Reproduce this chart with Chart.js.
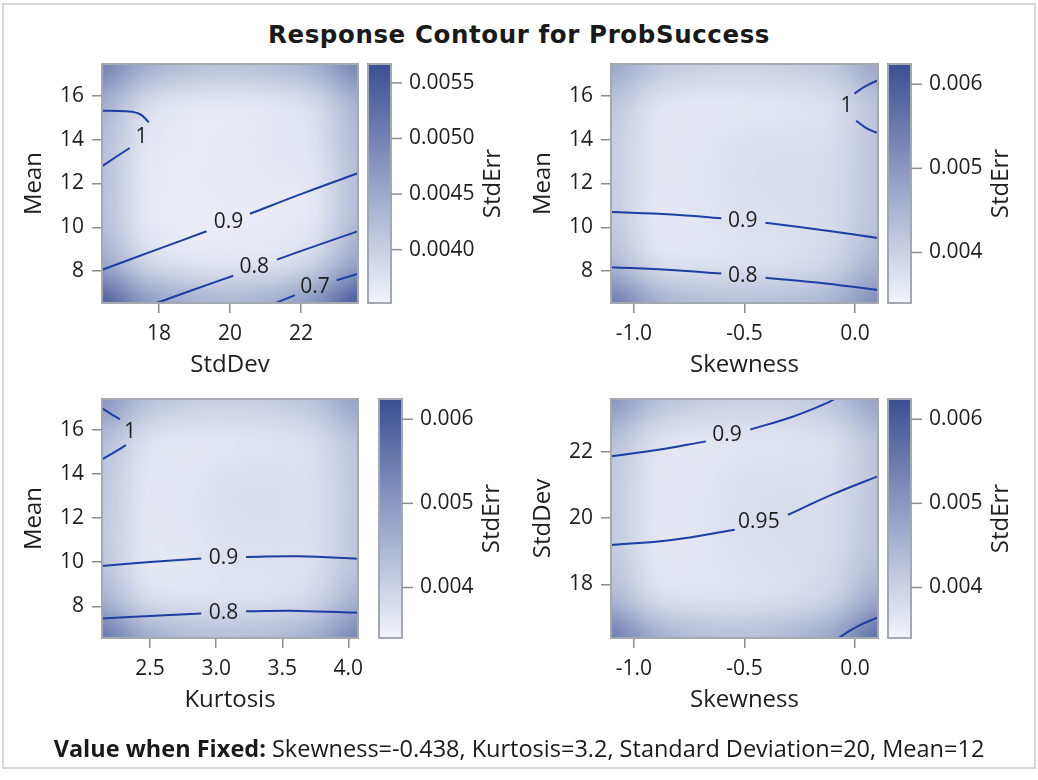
<!DOCTYPE html>
<html>
<head>
<meta charset="utf-8">
<title>Response Contour for ProbSuccess</title>
<script src="https://cdn.jsdelivr.net/npm/chart.js@4.4.1/dist/chart.umd.min.js"></script>
<style>
  html, body { margin: 0; padding: 0; background: #fff; }
  #page { position: relative; width: 1038px; height: 780px; overflow: hidden; font-family: 'Open Sans', sans-serif; color: #1a1a1a; }
  #frame { position: absolute; left: 2px; top: 3px; width: 1030px; height: 762px; border: 2px solid #d6d6d6; }
  #title { position: absolute; left: 0; top: 21px; width: 1038px; text-align: center; font: bold 24.5px 'DejaVu Sans', sans-serif; letter-spacing: 0.6px; line-height: 28px; }
  #foot { position: absolute; left: 0; top: 737px; width: 1038px; text-align: center; font-size: 23.5px; line-height: 23px; }
  canvas { position: absolute; }
  #c1 { left: 0; top: 50px; }
  #c2 { left: 519px; top: 50px; }
  #c3 { left: 0; top: 385px; }
  #c4 { left: 519px; top: 385px; }
</style>
</head>
<body>
<div id="page">
  <div id="frame"></div>
  <div id="title">Response Contour for ProbSuccess</div>
  <canvas id="c1" width="519" height="340"></canvas>
  <canvas id="c2" width="519" height="340"></canvas>
  <canvas id="c3" width="519" height="340"></canvas>
  <canvas id="c4" width="519" height="340"></canvas>
  <div id="foot"><b>Value when Fixed:</b> Skewness=-0.438, Kurtosis=3.2, Standard Deviation=20, Mean=12</div>
</div>
<script>
// ---- panel 1: Mean vs StdDev ----
const p1XRange = [16.4, 23.6];
const p1YRange = [6.55, 17.45];
const p1XTicks = [18, 20, 22];
const p1YTicks = [8, 10, 12, 14, 16];
const p1ErrRange = [0.00352, 0.00567];
const p1ErrTicks = [0.0040, 0.0045, 0.0050, 0.0055];
const p1GridX = [16.4, 17.6, 18.8, 20.0, 21.2, 22.4, 23.6];
const p1GridY = [17.45, 15.63, 13.82, 12.0, 10.18, 8.37, 6.55]; // top to bottom
const p1StdErr = [
  [0.00505, 0.00448, 0.00425, 0.00420, 0.00425, 0.00445, 0.00500],
  [0.00445, 0.00385, 0.00368, 0.00366, 0.00370, 0.00383, 0.00440],
  [0.00425, 0.00370, 0.00362, 0.00364, 0.00367, 0.00375, 0.00430],
  [0.00423, 0.00367, 0.00363, 0.00365, 0.00365, 0.00370, 0.00425],
  [0.00425, 0.00367, 0.00360, 0.00363, 0.00363, 0.00370, 0.00430],
  [0.00455, 0.00390, 0.00373, 0.00370, 0.00373, 0.00395, 0.00460],
  [0.00550, 0.00475, 0.00445, 0.00435, 0.00445, 0.00480, 0.00555]
];
const p1Contours = [
  { level: '1', at: [17.51, 14.14], segs: [
    [[16.3, 15.32], [17.09, 15.29], [17.46, 15.17], [17.72, 14.79]],
    [[17.18, 13.62], [16.81, 13.23], [16.3, 12.68]] ] },
  { level: '0.9', at: [19.96, 10.23], segs: [
    [[16.3, 8.0], [17.88, 8.95], [19.34, 9.82]],
    [[20.56, 10.62], [22.05, 11.55], [23.7, 12.53]] ] },
  { level: '0.8', at: [20.68, 8.17], segs: [
    [[17.85, 6.5], [18.95, 7.14], [20.09, 7.79]],
    [[21.32, 8.53], [22.45, 9.18], [23.7, 9.88]] ] },
  { level: '0.7', at: [22.39, 7.26], segs: [
    [[21.2, 6.5], [21.83, 6.91]],
    [[23.0, 7.59], [23.7, 7.93]] ] }
];

// ---- panel 2: Mean vs Skewness ----
const p2XRange = [-1.104, 0.104];
const p2YRange = [6.55, 17.45];
const p2XTicks = [-1.0, -0.5, 0.0];
const p2YTicks = [8, 10, 12, 14, 16];
const p2ErrRange = [0.00340, 0.00624];
const p2ErrTicks = [0.004, 0.005, 0.006];
const p2GridX = [-1.104, -0.903, -0.701, -0.5, -0.299, -0.097, 0.104];
const p2GridY = [17.45, 15.63, 13.82, 12.0, 10.18, 8.37, 6.55];
const p2StdErr = [
  [0.00480, 0.00425, 0.00405, 0.00400, 0.00405, 0.00420, 0.00480],
  [0.00425, 0.00370, 0.00360, 0.00363, 0.00367, 0.00377, 0.00430],
  [0.00410, 0.00363, 0.00365, 0.00375, 0.00377, 0.00380, 0.00425],
  [0.00410, 0.00363, 0.00367, 0.00377, 0.00380, 0.00383, 0.00425],
  [0.00415, 0.00360, 0.00365, 0.00373, 0.00377, 0.00383, 0.00430],
  [0.00445, 0.00377, 0.00370, 0.00373, 0.00377, 0.00395, 0.00455],
  [0.00555, 0.00465, 0.00435, 0.00430, 0.00435, 0.00455, 0.00520]
];
const p2Contours = [
  { level: '1', at: [-0.039, 15.55], segs: [
    [[0.12, 16.78], [0.05, 16.45], [-0.003, 16.1]],
    [[0.005, 14.86], [0.051, 14.53], [0.12, 14.22]] ] },
  { level: '0.9', at: [-0.508, 10.27], segs: [
    [[-1.12, 10.71], [-0.829, 10.59], [-0.605, 10.41]],
    [[-0.405, 10.21], [-0.134, 9.86], [0.12, 9.49]] ] },
  { level: '0.8', at: [-0.508, 7.79], segs: [
    [[-1.12, 8.19], [-0.829, 8.05], [-0.605, 7.89]],
    [[-0.405, 7.70], [-0.134, 7.44], [0.12, 7.12]] ] }
];

// ---- panel 3: Mean vs Kurtosis ----
const p3XRange = [2.136, 4.073];
const p3YRange = [6.56, 17.41];
const p3XTicks = [2.5, 3.0, 3.5, 4.0];
const p3YTicks = [8, 10, 12, 14, 16];
const p3ErrRange = [0.00340, 0.00624];
const p3ErrTicks = [0.004, 0.005, 0.006];
const p3GridX = [2.136, 2.459, 2.782, 3.104, 3.427, 3.750, 4.073];
const p3GridY = [17.41, 15.6, 13.8, 11.99, 10.18, 8.37, 6.56];
const p3StdErr = [
  [0.00510, 0.00435, 0.00410, 0.00405, 0.00410, 0.00430, 0.00490],
  [0.00440, 0.00375, 0.00363, 0.00365, 0.00370, 0.00380, 0.00430],
  [0.00420, 0.00365, 0.00365, 0.00377, 0.00377, 0.00377, 0.00420],
  [0.00417, 0.00363, 0.00367, 0.00377, 0.00379, 0.00377, 0.00420],
  [0.00420, 0.00361, 0.00363, 0.00371, 0.00373, 0.00375, 0.00425],
  [0.00455, 0.00380, 0.00370, 0.00371, 0.00373, 0.00390, 0.00455],
  [0.00560, 0.00470, 0.00440, 0.00435, 0.00440, 0.00465, 0.00535]
];
const p3Contours = [
  { level: '1', at: [2.347, 15.92], segs: [
    [[2.12, 17.05], [2.2, 16.75], [2.272, 16.49]],
    [[2.317, 15.32], [2.234, 15.01], [2.12, 14.62]] ] },
  { level: '0.9', at: [3.055, 10.20], segs: [
    [[2.12, 9.82], [2.498, 10.01], [2.887, 10.17]],
    [[3.226, 10.24], [3.628, 10.27], [4.09, 10.15]] ] },
  { level: '0.8', at: [3.055, 7.71], segs: [
    [[2.12, 7.44], [2.498, 7.56], [2.887, 7.67]],
    [[3.226, 7.77], [3.628, 7.79], [4.09, 7.70]] ] }
];

// ---- panel 4: StdDev vs Skewness ----
const p4XRange = [-1.104, 0.104];
const p4YRange = [16.38, 23.6];
const p4XTicks = [-1.0, -0.5, 0.0];
const p4YTicks = [18, 20, 22];
const p4ErrRange = [0.00340, 0.00624];
const p4ErrTicks = [0.004, 0.005, 0.006];
const p4GridX = [-1.104, -0.903, -0.701, -0.5, -0.299, -0.097, 0.104];
const p4GridY = [23.6, 22.4, 21.19, 19.99, 18.79, 17.58, 16.38];
const p4StdErr = [
  [0.00510, 0.00435, 0.00410, 0.00403, 0.00405, 0.00425, 0.00490],
  [0.00435, 0.00373, 0.00363, 0.00367, 0.00370, 0.00377, 0.00430],
  [0.00417, 0.00363, 0.00365, 0.00375, 0.00377, 0.00379, 0.00423],
  [0.00415, 0.00362, 0.00367, 0.00377, 0.00380, 0.00381, 0.00425],
  [0.00417, 0.00361, 0.00365, 0.00373, 0.00377, 0.00383, 0.00433],
  [0.00450, 0.00380, 0.00371, 0.00373, 0.00379, 0.00400, 0.00470],
  [0.00555, 0.00465, 0.00437, 0.00433, 0.00445, 0.00480, 0.00575]
];
const p4Contours = [
  { level: '0.9', at: [-0.579, 22.52], segs: [
    [[-1.12, 21.86], [-0.906, 22.05], [-0.675, 22.32]],
    [[-0.474, 22.68], [-0.289, 23.05], [-0.12, 23.5], [-0.08, 23.65]] ] },
  { level: '0.95', at: [-0.435, 19.87], segs: [
    [[-1.12, 19.18], [-0.829, 19.34], [-0.544, 19.65]],
    [[-0.304, 20.10], [-0.104, 20.71], [0.12, 21.31]] ] },
  { level: '', at: null, segs: [
    [[-0.085, 16.33], [0.005, 16.71], [0.12, 17.05]] ] }
];

const FONT = "'Open Sans', sans-serif";
const TEXT = '#1e1e1e';
const TICK = '#8d8d8d';
const FRAME = '#a4a9b1';
const LINE = '#1c3fa0';
const ERR_LOW = [242, 244, 251];
const ERR_HIGH = [58, 79, 146];

function errColor(v, range) {
  let t = (v - range[0]) / (range[1] - range[0]);
  t = Math.max(0, Math.min(1, t));
  return ERR_LOW.map((lo, i) => Math.round(lo + (ERR_HIGH[i] - lo) * t));
}

const panelDecor = {
  id: 'panelDecor',
  beforeDatasetsDraw(chart, args, o) {
    const { ctx, chartArea: a, scales } = chart;
    const ny = o.grid.length, nx = o.grid[0].length;
    const off = document.createElement('canvas');
    off.width = nx; off.height = ny;
    const octx = off.getContext('2d');
    const img = octx.createImageData(nx, ny);
    o.grid.forEach((row, r) => row.forEach((v, c) => {
      const col = errColor(v, o.errRange);
      const i = (r * nx + c) * 4;
      img.data[i] = col[0]; img.data[i + 1] = col[1]; img.data[i + 2] = col[2]; img.data[i + 3] = 255;
    }));
    octx.putImageData(img, 0, 0);
    const x0 = scales.x.getPixelForValue(o.gridX[0]);
    const x1 = scales.x.getPixelForValue(o.gridX[nx - 1]);
    const y0 = scales.y.getPixelForValue(o.gridY[0]);
    const y1 = scales.y.getPixelForValue(o.gridY[ny - 1]);
    ctx.save();
    ctx.beginPath();
    ctx.rect(a.left, a.top, a.width, a.height);
    ctx.clip();
    ctx.imageSmoothingEnabled = true;
    ctx.imageSmoothingQuality = 'high';
    ctx.drawImage(off, 0.5, 0.5, nx - 1, ny - 1, x0, y0, x1 - x0, y1 - y0);
    ctx.restore();
  },
  afterDatasetsDraw(chart, args, o) {
    const { ctx, chartArea: a, scales } = chart;
    ctx.save();
    ctx.font = '21px ' + FONT;
    ctx.fillStyle = TEXT;
    ctx.textAlign = 'center';
    ctx.textBaseline = 'middle';
    o.contours.forEach(c => {
      if (!c.at) return;
      ctx.fillText(c.level, scales.x.getPixelForValue(c.at[0]), scales.y.getPixelForValue(c.at[1]));
    });
    ctx.strokeStyle = FRAME;
    ctx.lineWidth = 2;
    ctx.strokeRect(a.left, a.top, a.width, a.height);
    ctx.restore();
  },
  afterDraw(chart, args, o) {
    const { ctx, chartArea: a, scales } = chart;
    const cb = scales.cb;
    const left = a.right + o.barGap, w = 23;
    const top = cb.getPixelForValue(o.errRange[1]);
    const bottom = cb.getPixelForValue(o.errRange[0]);
    ctx.save();
    const g = ctx.createLinearGradient(0, top, 0, bottom);
    g.addColorStop(0, 'rgb(' + errColor(o.errRange[1], o.errRange).join(',') + ')');
    g.addColorStop(1, 'rgb(' + errColor(o.errRange[0], o.errRange).join(',') + ')');
    ctx.fillStyle = g;
    ctx.fillRect(left, top, w, bottom - top);
    ctx.strokeStyle = FRAME;
    ctx.lineWidth = 2;
    ctx.strokeRect(left, top, w, bottom - top);
    ctx.font = '21px ' + FONT;
    ctx.textAlign = 'left';
    ctx.textBaseline = 'middle';
    let maxW = 0;
    o.errTicks.forEach(v => {
      const y = cb.getPixelForValue(v);
      ctx.strokeStyle = TICK;
      ctx.lineWidth = 1.5;
      ctx.beginPath();
      ctx.moveTo(left + w, y);
      ctx.lineTo(left + w + 11, y);
      ctx.stroke();
      const s = v.toFixed(o.errDigits);
      ctx.fillStyle = TEXT;
      ctx.fillText(s, left + w + 18, y);
      maxW = Math.max(maxW, ctx.measureText(s).width);
    });
    ctx.font = '24px ' + FONT;
    ctx.textAlign = 'center';
    ctx.translate(left + w + 18 + maxW + 19, (top + bottom) / 2);
    ctx.rotate(-Math.PI / 2);
    ctx.fillText('StdErr', 0, 0);
    ctx.restore();
  }
};

function axis(pos, range, ticks, digits, title, size, titlePad) {
  return {
    type: 'linear',
    position: pos,
    min: range[0],
    max: range[1],
    afterBuildTicks: s => { s.ticks = ticks.map(v => ({ value: v })); },
    afterFit: s => {
      if (pos === 'left') { s.width = size; s.paddingTop = 0; s.paddingBottom = 0; }
      else { s.height = size; s.paddingLeft = 0; s.paddingRight = 0; }
    },
    grid: { drawOnChartArea: false, drawTicks: true, tickLength: 10, color: TICK, lineWidth: 1.5 },
    border: { display: false },
    ticks: {
      autoSkip: false,
      maxRotation: 0,
      padding: 8,
      color: TEXT,
      font: { family: FONT, size: 21 },
      callback: v => Number(v).toFixed(digits)
    },
    title: { display: true, text: title, color: TEXT, font: { family: FONT, size: 24 }, padding: titlePad }
  };
}

function makePanel(id, p) {
  const datasets = [];
  p.contours.forEach(c => c.segs.forEach(seg => {
    datasets.push({
      data: seg.map(([x, y]) => ({ x, y })),
      showLine: true,
      borderColor: LINE,
      borderWidth: 2,
      pointRadius: 0,
      tension: 0.4,
      fill: false
    });
  }));
  new Chart(document.getElementById(id), {
    type: 'scatter',
    data: { datasets },
    options: {
      responsive: false,
      animation: false,
      devicePixelRatio: 1,
      layout: { padding: { left: 0, top: 14, right: p.padRight, bottom: 0 } },
      plugins: {
        legend: { display: false },
        tooltip: { enabled: false },
        panelDecor: {
          grid: p.grid, gridX: p.gridX, gridY: p.gridY,
          errRange: p.errRange, errTicks: p.errTicks, errDigits: p.errDigits,
          contours: p.contours, barGap: p.barGap
        }
      },
      scales: {
        x: axis('bottom', p.xRange, p.xTicks, p.xDigits, p.xTitle, 87, { top: 0, bottom: 10 }),
        y: axis('left', p.yRange, p.yTicks, 0, p.yTitle, p.yWidth, { top: p.yTitlePad, bottom: 0 }),
        cb: { type: 'linear', display: false, position: 'right', min: p.errRange[0], max: p.errRange[1] }
      }
    },
    plugins: [panelDecor]
  });
}

makePanel('c1', {
  xRange: p1XRange, yRange: p1YRange, xTicks: p1XTicks, yTicks: p1YTicks, xDigits: 0,
  xTitle: 'StdDev', yTitle: 'Mean', yWidth: 102, yTitlePad: 20, padRight: 161, barGap: 10,
  grid: p1StdErr, gridX: p1GridX, gridY: p1GridY, errRange: p1ErrRange, errTicks: p1ErrTicks, errDigits: 4,
  contours: p1Contours
});
makePanel('c2', {
  xRange: p2XRange, yRange: p2YRange, xTicks: p2XTicks, yTicks: p2YTicks, xDigits: 1,
  xTitle: 'Skewness', yTitle: 'Mean', yWidth: 92, yTitlePad: 10, padRight: 160, barGap: 10,
  grid: p2StdErr, gridX: p2GridX, gridY: p2GridY, errRange: p2ErrRange, errTicks: p2ErrTicks, errDigits: 3,
  contours: p2Contours
});
makePanel('c3', {
  xRange: p3XRange, yRange: p3YRange, xTicks: p3XTicks, yTicks: p3YTicks, xDigits: 1,
  xTitle: 'Kurtosis', yTitle: 'Mean', yWidth: 102, yTitlePad: 20, padRight: 161, barGap: 21,
  grid: p3StdErr, gridX: p3GridX, gridY: p3GridY, errRange: p3ErrRange, errTicks: p3ErrTicks, errDigits: 3,
  contours: p3Contours
});
makePanel('c4', {
  xRange: p4XRange, yRange: p4YRange, xTicks: p4XTicks, yTicks: p4YTicks, xDigits: 1,
  xTitle: 'Skewness', yTitle: 'StdDev', yWidth: 92, yTitlePad: 10, padRight: 160, barGap: 10,
  grid: p4StdErr, gridX: p4GridX, gridY: p4GridY, errRange: p4ErrRange, errTicks: p4ErrTicks, errDigits: 3,
  contours: p4Contours
});
</script>
</body>
</html>
